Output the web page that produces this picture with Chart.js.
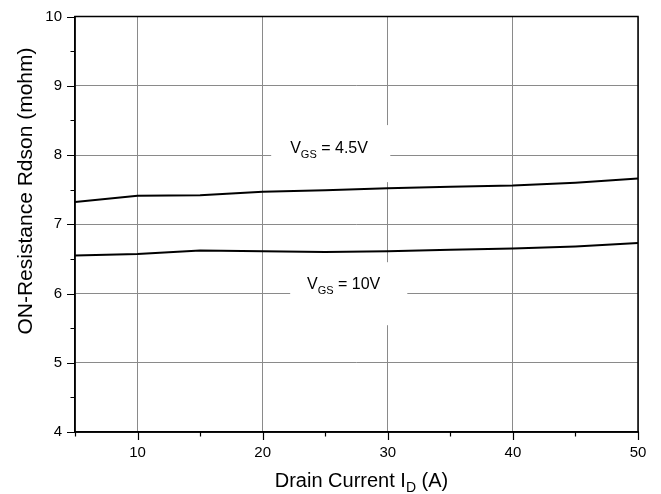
<!DOCTYPE html>
<html><head><meta charset="utf-8">
<script src="https://cdn.jsdelivr.net/npm/chart.js@4/dist/chart.umd.min.js"></script>
<style>html,body{margin:0;padding:0;background:#fff}</style>
</head><body>
<canvas id="c" width="661" height="494"></canvas>
<script>
// ---- data ----
const currentA = [5, 10, 15, 20, 25, 30, 35, 40, 45, 50];
const rdsonVgs45 = [7.32, 7.41, 7.42, 7.47, 7.49, 7.52, 7.54, 7.56, 7.60, 7.66];
const rdsonVgs10 = [6.55, 6.57, 6.62, 6.61, 6.60, 6.61, 6.63, 6.65, 6.68, 6.73];
const xMajorTicks = [10, 20, 30, 40, 50];
const xMinorTicks = [5, 15, 25, 35, 45];
const yMajorTicks = [4, 5, 6, 7, 8, 9, 10];
const yMinorTicks = [4.5, 5.5, 6.5, 7.5, 8.5, 9.5];
const xTitleMain = 'Drain Current I';
const xTitleSub = 'D';
const xTitleEnd = ' (A)';
const yTitle = 'ON-Resistance Rdson (mohm)';

// annotation labels (anchored in data units)
const labelNotes = [
  { main: 'V', sub: 'GS', rest: ' = 4.5V', tx: 22.2, ty: 8.032, box: [20.68, 30.2, 7.608, 8.432] },
  { main: 'V', sub: 'GS', rest: ' = 10V', tx: 23.54, ty: 6.072, box: [22.2, 31.56, 5.542, 6.452] }
];

const FONT = '"Liberation Sans", Arial, Helvetica, sans-serif';

const decor = {
  id: 'decor',
  afterDraw(chart) {
    const { ctx, chartArea: a, scales: { x, y } } = chart;
    ctx.save();
    // label boxes and texts
    labelNotes.forEach(n => {
      const x1 = x.getPixelForValue(n.box[0]), x2 = x.getPixelForValue(n.box[1]);
      const yb = y.getPixelForValue(n.box[2]), yt = y.getPixelForValue(n.box[3]);
      ctx.fillStyle = '#fff';
      ctx.fillRect(x1, yt, x2 - x1, yb - yt);
      let px = x.getPixelForValue(n.tx);
      const py = y.getPixelForValue(n.ty);
      ctx.fillStyle = '#000';
      ctx.textBaseline = 'alphabetic';
      ctx.textAlign = 'left';
      ctx.font = '16px ' + FONT;
      ctx.fillText(n.main, px, py); px += ctx.measureText(n.main).width;
      ctx.font = '11px ' + FONT;
      ctx.fillText(n.sub, px, py + 5.5); px += ctx.measureText(n.sub).width;
      ctx.font = '16px ' + FONT;
      ctx.fillText(n.rest, px, py);
    });
    // frame
    ctx.strokeStyle = '#000';
    ctx.lineWidth = 1.5;
    ctx.strokeRect(a.left, a.top, a.right - a.left, a.bottom - a.top);
    // tick marks
    ctx.lineWidth = 1.2;
    ctx.beginPath();
    xMajorTicks.forEach(v => { const p = Math.round(x.getPixelForValue(v)) + 0.5; ctx.moveTo(p, a.bottom); ctx.lineTo(p, a.bottom + 8); });
    xMinorTicks.forEach(v => { const p = Math.round(x.getPixelForValue(v)) + 0.5; ctx.moveTo(p, a.bottom); ctx.lineTo(p, a.bottom + 4.5); });
    yMajorTicks.forEach(v => { const p = Math.round(y.getPixelForValue(v)) + 0.5; ctx.moveTo(a.left, p); ctx.lineTo(a.left - 8, p); });
    yMinorTicks.forEach(v => { const p = Math.round(y.getPixelForValue(v)) + 0.5; ctx.moveTo(a.left, p); ctx.lineTo(a.left - 4.5, p); });
    ctx.stroke();
    // x title with subscript
    ctx.fillStyle = '#000';
    ctx.textAlign = 'left';
    ctx.textBaseline = 'alphabetic';
    ctx.font = '20px ' + FONT;
    const w1 = ctx.measureText(xTitleMain).width, w3 = ctx.measureText(xTitleEnd).width;
    ctx.font = '14px ' + FONT;
    const w2 = ctx.measureText(xTitleSub).width;
    let tx = 361.5 - (w1 + w2 + w3) / 2;
    const tyBase = 487;
    ctx.font = '20px ' + FONT;
    ctx.fillText(xTitleMain, tx, tyBase); tx += w1;
    ctx.font = '14px ' + FONT;
    ctx.fillText(xTitleSub, tx, tyBase + 5); tx += w2;
    ctx.font = '20px ' + FONT;
    ctx.fillText(xTitleEnd, tx, tyBase);
    // y title
    ctx.save();
    ctx.translate(31.5, 191);
    ctx.rotate(-Math.PI / 2);
    ctx.textAlign = 'center';
    ctx.font = '21px ' + FONT;
    ctx.fillText(yTitle, 0, 0);
    ctx.restore();
    ctx.restore();
  }
};

new Chart(document.getElementById('c'), {
  type: 'line',
  data: {
    datasets: [
      { label: 'VGS = 4.5V', data: currentA.map((v, i) => ({ x: v, y: rdsonVgs45[i] })), borderColor: '#000', borderWidth: 2, pointRadius: 0, tension: 0, fill: false },
      { label: 'VGS = 10V', data: currentA.map((v, i) => ({ x: v, y: rdsonVgs10[i] })), borderColor: '#000', borderWidth: 2, pointRadius: 0, tension: 0, fill: false }
    ]
  },
  options: {
    responsive: false,
    animation: false,
    devicePixelRatio: 1,
    layout: { padding: { top: 16.5, right: 23, left: 0, bottom: 0 } },
    plugins: { legend: { display: false }, tooltip: { enabled: false } },
    scales: {
      x: {
        type: 'linear', min: 5, max: 50,
        afterBuildTicks: s => { s.ticks = xMajorTicks.map(v => ({ value: v })); },
        afterFit: s => { s.height = 62; s.paddingLeft = 0; s.paddingRight = 0; },
        grid: { color: '#8a8a8a', lineWidth: 1, drawTicks: false },
        border: { display: true, color: '#000', width: 1.5 },
        ticks: { color: '#000', font: { family: FONT, size: 15 }, padding: 12, maxRotation: 0, autoSkip: false }
      },
      y: {
        type: 'linear', min: 4, max: 10,
        afterBuildTicks: s => { s.ticks = yMajorTicks.map(v => ({ value: v })); },
        afterFit: s => { s.width = 75; s.paddingTop = 0; s.paddingBottom = 0; },
        grid: { color: '#8a8a8a', lineWidth: 1, drawTicks: false },
        border: { display: true, color: '#000', width: 1.5 },
        ticks: { color: '#000', font: { family: FONT, size: 15 }, padding: 13, autoSkip: false }
      }
    }
  },
  plugins: [decor]
});
</script>
</body></html>
